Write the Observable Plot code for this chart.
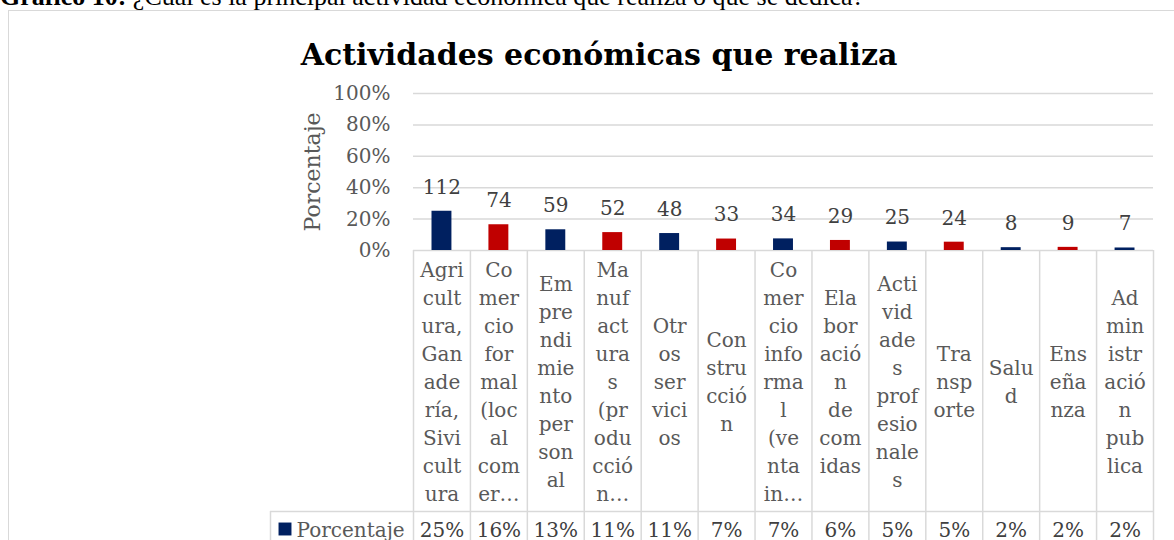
<!DOCTYPE html>
<html><head><meta charset="utf-8">
<script src="https://cdn.jsdelivr.net/npm/d3@7"></script>
<script src="https://cdn.jsdelivr.net/npm/@observablehq/plot@0.6"></script>
<style>
body{margin:0;background:#fff;width:1174px;height:540px;overflow:hidden;position:relative;}
#cap{position:absolute;left:0;top:-16px;font-family:"Liberation Serif";font-size:26px;line-height:26px;white-space:nowrap;color:#000;}
#box{position:absolute;left:8px;top:10px;width:1200px;height:600px;border:1.5px solid #d9d9d9;}
#title{position:absolute;left:0;top:36px;width:1198px;text-align:center;font-family:"DejaVu Serif";font-weight:bold;font-size:30px;line-height:38px;color:#000;}
#chart{position:absolute;left:0;top:0;}
</style></head>
<body>
<div id="cap"><b>Gráfico 10:</b> ¿Cuál es la principal actividad económica que realiza o que se dedica?</div>
<div id="box"></div>
<div id="title">Actividades económicas que realiza</div>
<div id="chart"></div>
<script>
const categories = [
  "Agricultura, Ganadería, Sivicultura",
  "Comercio formal (local comercial)",
  "Emprendimiento personal",
  "Manufacturas (producción)",
  "Otros servicios",
  "Construcción",
  "Comercio informal (venta informal)",
  "Elaboración de comidas",
  "Actividades profesionales",
  "Transporte",
  "Salud",
  "Enseñanza",
  "Administración publica"
];
const cellLabels = [
  "Agri\ncult\nura,\nGan\nade\nría,\nSivi\ncult\nura",
  "Co\nmer\ncio\nfor\nmal\n(loc\nal\ncom\ner…",
  "Em\npre\nndi\nmie\nnto\nper\nson\nal",
  "Ma\nnuf\nact\nura\ns\n(pr\nodu\ncció\nn…",
  "Otr\nos\nser\nvici\nos",
  "Con\nstru\ncció\nn",
  "Co\nmer\ncio\ninfo\nrma\nl\n(ve\nnta\nin…",
  "Ela\nbor\nació\nn\nde\ncom\nidas",
  "Acti\nvid\nade\ns\nprof\nesio\nnale\ns",
  "Tra\nnsp\norte",
  "Salu\nd",
  "Ens\neña\nnza",
  "Ad\nmin\nistr\nació\nn\npub\nlica"
];
const counts = [112, 74, 59, 52, 48, 33, 34, 29, 25, 24, 8, 9, 7];
const percents = [25, 16.4, 13.2, 11.4, 10.8, 7.3, 7.4, 6.4, 5.4, 5.3, 1.8, 2.0, 1.6];
const percentLabels = ["25%","16%","13%","11%","11%","7%","7%","6%","5%","5%","2%","2%","2%"];
const yTicks = [0, 20, 40, 60, 80, 100];
const seriesName = "Porcentaje";

const data = categories.map((c, i) => ({
  cat: c, label: cellLabels[i], count: counts[i], pct: percents[i], pctLabel: percentLabels[i],
  color: i % 2 === 0 ? "#002060" : "#C00000"
}));

const W = 1174, H = 540, mL = 413, mR = 21, mT = 93, mB = 290;
const bw = (W - mL - mR) / categories.length;
const frameH = H - mT - mB;
const grid = "#d9d9d9";

const chart = Plot.plot({
  width: W, height: H,
  marginLeft: mL, marginRight: mR, marginTop: mT, marginBottom: mB,
  style: {fontFamily: "DejaVu Serif", fontSize: "20px", color: "#595959", background: "transparent"},
  x: {domain: categories, padding: 0, round: false, axis: null},
  y: {domain: [0, 100], axis: null},
  color: {type: "identity"},
  marks: [
    Plot.gridY(yTicks, {stroke: grid, strokeOpacity: 1, strokeWidth: 1.5}),
    Plot.axisY(yTicks, {tickFormat: d => d + "%", tickSize: 0, tickPadding: 23, fill: "#595959", fontSize: 20, label: null}),
    Plot.text([seriesName], {frameAnchor: "left", rotate: -90, textAnchor: "middle", lineAnchor: "middle", dx: -101, fill: "#595959", fontSize: 22}),
    Plot.barY(data, {x: "cat", y: "pct", fill: "color", insetLeft: 18.5, insetRight: 18.5}),
    Plot.text(data, {x: "cat", y: "pct", text: d => String(d.count), dy: -24, fill: "#404040", fontSize: 20}),
    // table cell borders
    Plot.ruleX(categories, {x: d => d, dx: -bw / 2, insetTop: frameH, insetBottom: -mB, stroke: grid, strokeWidth: 1.5}),
    Plot.ruleX([categories[categories.length - 1]], {x: d => d, dx: bw / 2, insetTop: frameH, insetBottom: -mB, stroke: grid, strokeWidth: 1.5}),
    Plot.ruleX([categories[0]], {x: d => d, dx: -bw / 2 - 143, insetTop: frameH + 261, insetBottom: -mB, stroke: grid, strokeWidth: 1.5}),
    Plot.ruleY([0], {dy: 261, insetLeft: -143, stroke: grid, strokeWidth: 1.5}),
    // category labels
    Plot.text(data, {x: "cat", text: "label", frameAnchor: "bottom", lineAnchor: "middle", dy: 130, lineHeight: 1.4, fill: "#595959", fontSize: 20}),
    // data table row
    Plot.text(data, {x: "cat", text: "pctLabel", frameAnchor: "bottom", lineAnchor: "middle", dy: 280, fill: "#404040", fontSize: 20}),
    Plot.dot([seriesName], {frameAnchor: "bottom-left", dx: -128.5, dy: 278.5, symbol: "square", r: 7.3, fill: "#002060", stroke: null}),
    Plot.text([seriesName], {frameAnchor: "bottom-left", textAnchor: "start", lineAnchor: "middle", dx: -117, dy: 280, fill: "#595959", fontSize: 20})
  ]
});
document.getElementById("chart").appendChild(chart);
</script>
</body></html>
